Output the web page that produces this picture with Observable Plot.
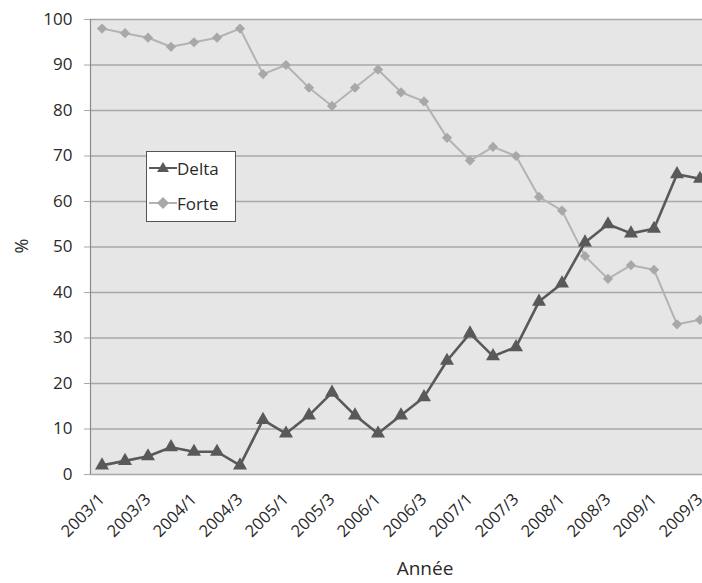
<!DOCTYPE html>
<html><head><meta charset="utf-8">
<script src="https://cdn.jsdelivr.net/npm/d3@7"></script>
<script src="https://cdn.jsdelivr.net/npm/@observablehq/plot@0.6"></script>
<style>
body{margin:0;background:#fff;}
#wrap{position:relative;width:702px;height:583px;overflow:hidden;font-family:"Open Sans",sans-serif;color:#2a2a2a;}
#wrap svg{overflow:hidden;}
#wrap g[aria-label="y-axis tick label"] text{font-size:17px;}
#wrap g[aria-label="x-axis tick label"] text{font-size:16.5px;}
#legend{position:absolute;left:146px;top:151px;width:90px;height:71px;background:#fff;border:1px solid #555;box-sizing:border-box;}
.li{position:absolute;left:2px;height:20px;display:flex;align-items:center;font-size:17px;color:#2a2a2a;}
#title-x{position:absolute;left:0;width:850px;top:555px;text-align:center;font-size:19px;color:#2a2a2a;}
#title-y{position:absolute;left:14px;top:234px;font-size:18px;color:#2a2a2a;transform:rotate(-90deg);transform-origin:center;}
</style></head><body><div id="wrap"></div>
<script>
const quarters = ["2003/1","2003/2","2003/3","2003/4","2004/1","2004/2","2004/3","2004/4",
  "2005/1","2005/2","2005/3","2005/4","2006/1","2006/2","2006/3","2006/4",
  "2007/1","2007/2","2007/3","2007/4","2008/1","2008/2","2008/3","2008/4",
  "2009/1","2009/2","2009/3"];
const seriesNames = ["Delta","Forte"];
const delta = [2,3,4,6,5,5,2,12,9,13,18,13,9,13,17,25,31,26,28,38,42,51,55,53,54,66,65];
const forte = [98,97,96,94,95,96,98,88,90,85,81,85,89,84,82,74,69,72,70,61,58,48,43,46,45,33,34];
const yTicks = [0,10,20,30,40,50,60,70,80,90,100];
const xTickIdx = [0,2,4,6,8,10,12,14,16,18,20,22,24,26];

const deltaData = quarters.map((q,i)=>({i,q,v:delta[i]}));
const forteData = quarters.map((q,i)=>({i,q,v:forte[i]}));

const chart = Plot.plot({
  width: 702, height: 583,
  marginLeft: 90, marginTop: 19, marginBottom: 109, marginRight: 0,
  style: {fontFamily: '"Open Sans", sans-serif', fontSize: "15px", color: "#2a2a2a", background: "#fff"},
  x: {domain: [-0.5, quarters.length - 0.5], range: [90, 711]},
  y: {domain: [0, 100], range: [474, 19]},
  marks: [
    Plot.rect([{}], {x1: -0.5, x2: quarters.length - 0.5, y1: 0, y2: 100, fill: "#e6e6e6"}),
    Plot.ruleY(yTicks, {stroke: "#a8a8a8", strokeWidth: 1.5}),
    Plot.ruleX([-0.5], {stroke: "#8c8c8c", strokeWidth: 1.2}),
    Plot.axisY(yTicks, {tickSize: 6, tickPadding: 12, fontSize: 17, stroke: "#a8a8a8", label: null}),
    Plot.axisX(xTickIdx, {tickFormat: i => quarters[i], tickRotate: -45, tickSize: 0,
      tickPadding: 22, fontSize: 16.5, label: null}),
    Plot.line(forteData, {x: "i", y: "v", stroke: "#b3b3b3", strokeWidth: 2}),
    Plot.dot(forteData, {x: "i", y: "v", symbol: "diamond2", r: 4.6, fill: "#a8a8a8", stroke: "none"}),
    Plot.line(deltaData, {x: "i", y: "v", stroke: "#595959", strokeWidth: 2.6}),
    Plot.dot(deltaData, {x: "i", y: "v", symbol: "triangle", r: 5.2, fill: "#595959", stroke: "none"})
  ]
});
const wrap = document.getElementById("wrap");
wrap.appendChild(chart);

const lg = document.createElement("div");
lg.id = "legend";
const items = [
  {name: seriesNames[0], color: "#595959", sym: '<path d="M9,3 L15,13 L3,13 Z" fill="#595959"/>', top: 6},
  {name: seriesNames[1], color: "#b3b3b3", sym: '<path d="M9,3 L15,9 L9,15 L3,9 Z" fill="#a8a8a8"/>', top: 41}
];
for (const it of items) {
  const d = document.createElement("div");
  d.className = "li";
  d.style.top = it.top + "px";
  d.innerHTML = `<svg width="28" height="18" style="overflow:visible"><line x1="0" x2="28" y1="9" y2="9" stroke="${it.color}" stroke-width="2"/><g transform="translate(5,0)">${it.sym}</g></svg><span style="margin-left:0px">${it.name}</span>`;
  lg.appendChild(d);
}
wrap.appendChild(lg);

const xt = document.createElement("div");
xt.id = "title-x";
xt.textContent = "Année";
wrap.appendChild(xt);
const yt = document.createElement("div");
yt.id = "title-y";
yt.textContent = "%";
wrap.appendChild(yt);
</script></body></html>
